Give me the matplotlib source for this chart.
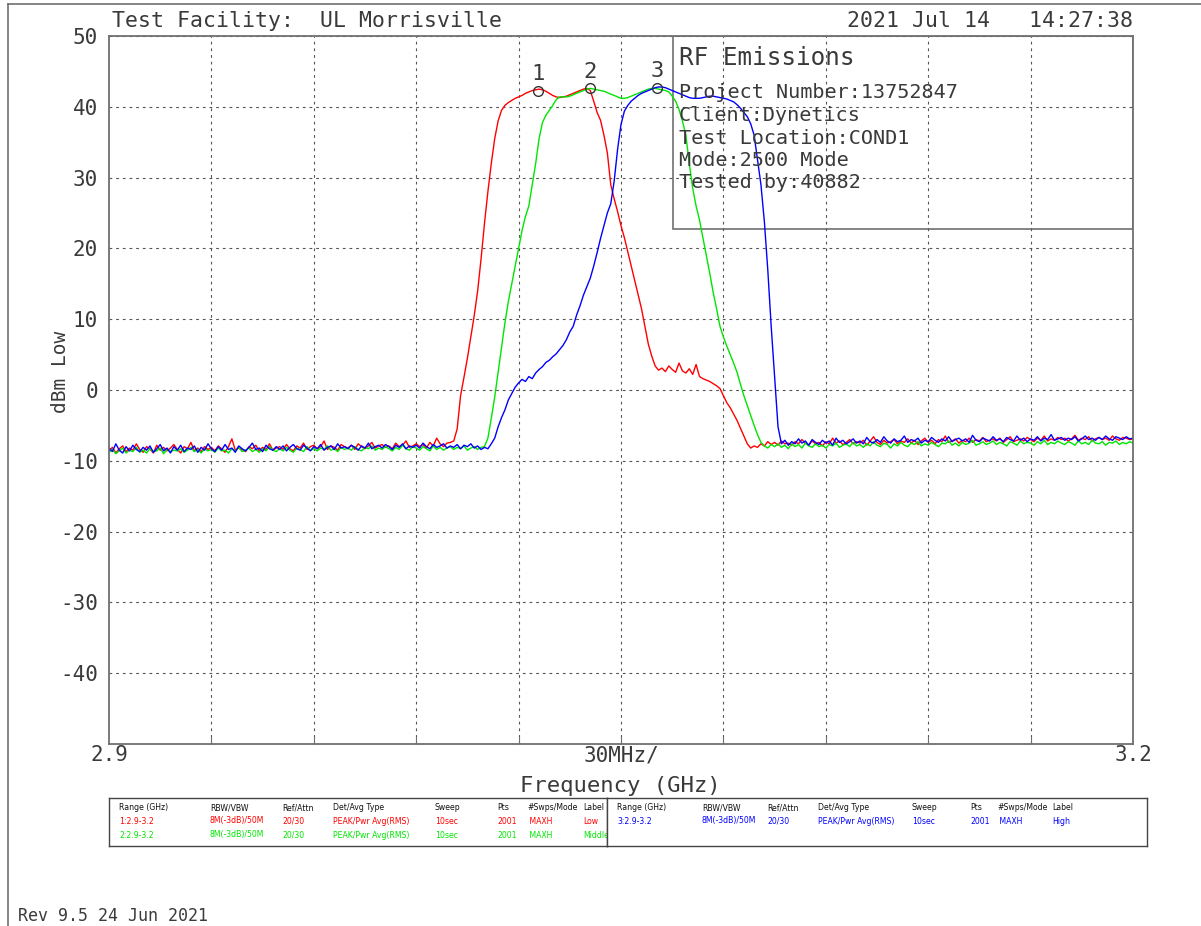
import matplotlib
matplotlib.use('Agg')
import matplotlib.pyplot as plt
from matplotlib.patches import Rectangle
from matplotlib.lines import Line2D
from matplotlib import font_manager
import numpy as np

# sweep points, 1 MHz apart, 2900..3200 MHz
freq_mhz = np.arange(2900, 3201)

low_db = [
    -8.6, -8.1, -8.9, -8.3, -7.9, -8.7, -8.2, -8.5, -7.6, -8.4,
    -8.8, -8.0, -8.3, -8.9, -7.8, -8.5, -8.1, -8.6, -8.2, -7.7,
    -8.4, -8.9, -8.0, -8.3, -7.4, -8.6, -8.2, -8.7, -8.0, -8.4,
    -8.1, -8.6, -7.9, -8.3, -8.8, -8.0, -6.9, -8.5, -8.2, -8.4,
    -8.7, -8.0, -8.3, -7.8, -8.6, -8.1, -8.4, -7.6, -8.5, -8.2,
    -8.0, -8.4, -7.7, -8.3, -8.6, -7.9, -8.2, -7.5, -8.4, -8.0,
    -7.8, -8.3, -8.0, -7.2, -8.4, -7.9, -8.1, -8.5, -7.7, -8.0,
    -8.2, -7.8, -8.4, -7.6, -8.0, -8.3, -7.9, -7.4, -8.2, -7.9,
    -7.7, -8.1, -7.9, -8.3, -7.5, -8.0, -7.8, -7.2, -8.1, -7.9,
    -7.6, -8.0, -7.7, -8.2, -7.4, -7.9, -6.8, -7.6, -8.0, -7.5,
    -7.4, -7.2, -5.5, -0.8, 1.8, 4.5, 7.5, 10.5, 14.0, 18.5,
    23.5, 28.0, 32.0, 35.5, 38.0, 39.5, 40.2, 40.6, 40.9, 41.2,
    41.4, 41.6, 41.9, 42.1, 42.3, 42.4, 42.5, 42.4, 42.2, 41.9,
    41.6, 41.4, 41.3, 41.4, 41.5, 41.7, 41.9, 42.1, 42.3, 42.5,
    42.6, 42.3, 40.8, 39.2, 38.1, 36.0, 33.5, 29.0, 27.0, 25.2,
    23.2, 21.5, 19.5, 17.5, 15.5, 13.5, 11.5, 9.0, 6.5, 4.8,
    3.4, 2.8, 3.1, 2.6, 3.4, 2.9, 2.5, 3.8, 2.7, 2.4,
    3.0, 2.2, 3.6, 1.9, 1.6, 1.4, 1.2, 0.9, 0.6, 0.2,
    -0.8, -1.8, -2.5, -3.4, -4.3, -5.4, -6.5, -7.6, -8.2, -7.9,
    -8.1, -7.6, -7.9, -7.3, -7.7, -7.4, -7.8, -7.2, -7.6, -7.5,
    -7.8, -7.3, -7.6, -7.0, -7.5, -7.8, -7.2, -7.6, -7.4, -7.9,
    -7.3, -7.6, -6.8, -7.5, -7.2, -7.7, -7.4, -7.0, -7.6, -7.3,
    -7.5, -7.1, -7.8, -7.2, -6.6, -7.4, -7.7, -7.1, -7.5, -7.3,
    -7.0, -7.6, -7.2, -7.4, -6.9, -7.5, -7.1, -7.7, -7.2, -6.8,
    -7.4, -7.1, -7.6, -7.0, -7.3, -6.5, -7.4, -7.2, -6.9, -7.5,
    -7.1, -7.3, -6.8, -7.4, -7.0, -7.2, -6.7, -7.3, -7.1, -6.9,
    -7.2, -6.8, -7.4, -7.0, -6.6, -7.3, -7.1, -6.9, -7.2, -6.7,
    -7.0, -7.3, -6.8, -7.1, -6.5, -7.2, -6.9, -7.1, -6.7, -7.0,
    -6.8, -7.2, -6.9, -6.4, -7.1, -6.8, -7.0, -6.6, -7.2, -6.9,
    -6.7, -7.0, -6.8, -7.1, -6.5, -6.9, -7.1, -6.7, -6.8, -7.0,
    -6.9,
]

middle_db = [
    -8.8, -8.4, -9.0, -8.6, -8.2, -8.9, -8.5, -8.7, -8.1, -8.8,
    -8.5, -8.9, -8.3, -8.7, -8.6, -8.2, -9.0, -8.4, -8.7, -8.5,
    -8.6, -8.3, -8.8, -8.5, -8.1, -8.7, -8.4, -8.9, -8.3, -8.6,
    -8.4, -8.8, -8.2, -8.6, -8.5, -8.9, -8.3, -8.6, -8.1, -8.7,
    -8.5, -8.2, -8.7, -8.4, -8.8, -8.3, -8.6, -8.0, -8.5, -8.7,
    -8.3, -8.6, -8.1, -8.5, -8.8, -8.2, -8.4, -8.7, -8.0, -8.5,
    -8.3, -8.6, -8.2, -8.4, -7.9, -8.5, -8.3, -8.7, -8.1, -8.4,
    -8.2, -8.5, -8.0, -8.4, -8.6, -8.1, -8.3, -7.9, -8.5, -8.2,
    -8.4, -8.0, -8.3, -8.6, -8.1, -8.4, -7.8, -8.3, -8.5, -8.0,
    -8.2, -8.5, -8.0, -8.3, -8.6, -7.9, -8.4, -8.1, -8.5, -8.2,
    -8.0, -8.4, -8.1, -8.3, -7.9, -8.5, -8.2, -8.0, -8.4, -8.1,
    -8.0, -6.8, -4.0, -1.0, 2.5, 6.0, 9.5, 12.5, 15.0, 17.5,
    20.0, 22.5, 24.5, 26.0, 29.0, 32.0, 35.5, 37.8, 38.8, 39.5,
    40.2, 41.0, 41.4, 41.4, 41.4, 41.5, 41.7, 41.9, 42.1, 42.3,
    42.5, 42.6, 42.5, 42.4, 42.3, 42.2, 42.0, 41.8, 41.6, 41.4,
    41.2, 41.2, 41.3, 41.5, 41.7, 41.9, 42.1, 42.3, 42.5, 42.6,
    42.6, 42.5, 42.4, 42.3, 42.1, 41.5, 40.8, 39.6, 38.0, 36.0,
    32.0, 28.5, 26.0, 24.0, 21.5, 19.0, 16.5, 13.8, 11.5, 9.0,
    7.5, 6.2, 5.0, 3.8, 2.5, 0.8, -0.8, -2.2, -3.6, -5.0,
    -6.3, -7.4, -7.9, -8.2, -7.7, -8.0, -7.6, -8.1, -7.8, -8.3,
    -7.6, -8.0, -7.7, -8.2, -7.5, -7.9, -8.1, -7.6, -8.0, -7.8,
    -8.2, -7.7, -7.9, -7.5, -8.1, -7.8, -7.6, -8.0, -7.4, -7.9,
    -7.7, -8.1, -7.6, -7.9, -7.3, -7.8, -8.0, -7.5, -7.7, -8.2,
    -7.6, -7.9, -7.4, -7.8, -8.0, -7.5, -7.7, -7.3, -7.9, -7.6,
    -7.8, -7.4, -7.7, -8.0, -7.5, -7.6, -7.2, -7.8, -7.5, -7.9,
    -7.4, -7.7, -7.5, -7.1, -7.8, -7.6, -7.3, -7.7, -7.5, -7.2,
    -7.7, -7.4, -7.6, -7.9, -7.3, -7.5, -7.8, -7.2, -7.6, -7.4,
    -7.5, -7.8, -7.3, -7.6, -7.1, -7.7, -7.4, -7.6, -7.2, -7.5,
    -7.7, -7.3, -7.5, -7.8, -7.2, -7.6, -7.4, -7.7, -7.1, -7.5,
    -7.6, -7.3, -7.8, -7.4, -7.5, -7.2, -7.7, -7.4, -7.6, -7.3,
    -7.5,
]

high_db = [
    -8.2, -8.7, -7.6, -8.5, -8.9, -8.0, -8.6, -7.8, -8.4, -8.7,
    -8.1, -8.5, -7.9, -8.8, -8.3, -7.7, -8.6, -8.2, -8.9, -8.0,
    -8.5, -7.8, -8.7, -8.2, -8.4, -7.9, -8.8, -8.1, -8.5, -7.6,
    -8.3, -8.7, -8.0, -8.5, -7.7, -8.4, -8.2, -8.8, -7.9, -8.3,
    -8.6, -8.1, -7.5, -8.4, -8.2, -8.7, -7.8, -8.3, -8.5, -8.0,
    -8.4, -7.9, -8.6, -8.1, -7.7, -8.3, -8.5, -7.8, -8.2, -8.6,
    -8.0, -8.3, -7.7, -8.5, -8.1, -7.9, -8.4, -7.6, -8.2, -8.0,
    -8.3, -7.8, -8.1, -8.5, -7.9, -8.2, -7.5, -8.3, -8.0, -7.8,
    -8.2, -7.7, -8.0, -8.4, -7.8, -8.1, -7.6, -8.3, -7.9, -8.1,
    -7.8, -8.2, -7.5, -8.0, -8.3, -7.7, -8.1, -7.9, -7.6, -8.2,
    -7.9, -8.1, -7.7, -8.3, -7.8, -8.0, -7.6, -8.2, -7.9, -8.4,
    -8.1, -8.3, -7.6, -6.8, -5.2, -3.9, -2.8, -1.4, -0.5, 0.4,
    1.0, 1.5, 1.2, 1.9, 1.6, 2.4, 2.9, 3.3, 3.9, 4.2,
    4.7, 5.1, 5.7, 6.3, 7.1, 8.2, 9.0, 10.6, 11.9, 13.4,
    14.6, 15.8, 17.5, 19.4, 21.4, 23.2, 25.0, 26.3, 29.5, 34.0,
    37.5, 39.4, 40.2, 40.8, 41.2, 41.6, 41.9, 42.1, 42.3, 42.5,
    42.7, 42.8, 42.8, 42.7, 42.5, 42.3, 42.1, 41.9, 41.7, 41.5,
    41.3, 41.2, 41.2, 41.2, 41.3, 41.4, 41.5, 41.5, 41.4, 41.3,
    41.2, 41.1, 40.9, 40.7, 40.3, 39.8, 39.2, 38.6, 37.6, 36.0,
    32.5, 29.0, 23.8, 17.0, 9.0, 1.8, -5.2, -7.6, -7.1, -7.8,
    -7.3, -7.6, -6.9, -7.5, -7.2, -7.8, -7.0, -7.4, -7.7, -7.1,
    -7.5, -7.2, -7.8, -6.8, -7.4, -7.1, -7.6, -7.3, -6.9, -7.5,
    -7.2, -7.6, -6.7, -7.3, -7.5, -7.0, -7.4, -6.6, -7.2, -7.5,
    -6.9, -7.3, -7.1, -6.5, -7.4, -7.0, -7.2, -6.8, -7.5, -7.1,
    -7.3, -6.7, -7.1, -7.4, -6.9, -7.2, -6.6, -7.3, -7.0, -6.8,
    -7.2, -6.9, -7.4, -6.4, -7.1, -7.3, -6.8, -7.0, -7.2, -6.6,
    -7.1, -6.9, -7.3, -6.7, -7.0, -7.2, -6.5, -7.1, -6.8, -7.3,
    -6.9, -7.1, -6.6, -7.2, -6.8, -7.0, -6.3, -7.1, -6.9, -6.7,
    -7.1, -6.8, -7.0, -6.6, -7.2, -6.9, -6.5, -7.0, -6.8, -7.1,
    -6.7, -7.0, -6.5, -6.9, -7.1, -6.6, -6.8, -7.0, -6.6, -6.9,
    -6.8,
]

marker_mhz = [3025.8, 3040.9, 3060.5]
marker_db = [42.3, 42.6, 42.7]
marker_names = ['1', '2', '3']

info_lines = ['Project Number:13752847', 'Client:Dynetics', 'Test Location:COND1',
              'Mode:2500 Mode', 'Tested by:40882']

table_header = ['Range (GHz)', 'RBW/VBW', 'Ref/Attn', 'Det/Avg Type', 'Sweep', 'Pts', '#Swps/Mode', 'Label']
table_rows = [
    ['1:2.9-3.2', '8M(-3dB)/50M', '20/30', 'PEAK/Pwr Avg(RMS)', '10sec', '2001', ' MAXH', 'Low'],
    ['2:2.9-3.2', '8M(-3dB)/50M', '20/30', 'PEAK/Pwr Avg(RMS)', '10sec', '2001', ' MAXH', 'Middle'],
    ['3:2.9-3.2', '8M(-3dB)/50M', '20/30', 'PEAK/Pwr Avg(RMS)', '10sec', '2001', ' MAXH', 'High'],
]
row_colors = ['#ff0000', '#00e600', '#0000ff']

W, H = 1201, 926
mono = 'DejaVu Sans Mono'
txt = '#3a3a3a'
frame = '#707070'

installed = {f.name for f in font_manager.fontManager.ttflist}
small_font = 'Liberation Sans Narrow' if 'Liberation Sans Narrow' in installed else 'DejaVu Sans'
small_size = 6.5 if small_font == 'Liberation Sans Narrow' else 5.6

fig = plt.figure(figsize=(W / 100, H / 100), dpi=100)

def px_axes(x0, y0, x1, y1):
    return fig.add_axes([x0 / W, 1 - y1 / H, (x1 - x0) / W, (y1 - y0) / H])

# figure border (top + left)
fig.add_artist(Line2D([8 / W, 1], [1 - 4 / H, 1 - 4 / H], color=frame, lw=1.2))
fig.add_artist(Line2D([8 / W, 8 / W], [0, 1 - 4 / H], color=frame, lw=1.2))

ax = px_axes(109, 36, 1133, 744)
ax.plot(freq_mhz, low_db, color=row_colors[0], lw=1.0)
ax.plot(freq_mhz, middle_db, color=row_colors[1], lw=1.0)
ax.plot(freq_mhz, high_db, color=row_colors[2], lw=1.0)

ax.set_xlim(2900, 3200)
ax.set_ylim(-50, 50)
ax.set_xticks(np.arange(2930, 3200, 30))
ax.set_xticklabels([])
ax.tick_params(axis='x', direction='in', length=5, color=frame)
ax.set_yticks(np.arange(-40, 51, 10))
ax.set_yticklabels([str(v) for v in range(-40, 51, 10)], fontfamily=mono, fontsize=15, color=txt)
ax.tick_params(axis='y', length=0, pad=8)
ax.grid(True, color='#555555', linestyle=(0, (2.5, 3.5)), linewidth=0.8)
for s in ax.spines.values():
    s.set_color(frame)
    s.set_linewidth(1.3)

# x labels
tx = ax.get_xaxis_transform()
for f, lab in [(2900, '2.9'), (3050, '30MHz/'), (3200, '3.2')]:
    ax.text(f, -0.016, lab, transform=tx, ha='center', va='center', fontfamily=mono, fontsize=15, color=txt)
fig.text(620 / W, 1 - 786 / H, 'Frequency (GHz)', ha='center', va='center', fontfamily=mono, fontsize=16, color=txt)
fig.text(60 / W, 1 - 372 / H, 'dBm Low', rotation=90, ha='center', va='center', fontfamily=mono, fontsize=14, color=txt)

# header
fig.text(112 / W, 1 - 21 / H, 'Test Facility:  UL Morrisville', ha='left', va='center', fontfamily=mono, fontsize=15.5, color=txt)
fig.text(1133 / W, 1 - 21 / H, '2021 Jul 14   14:27:38', ha='right', va='center', fontfamily=mono, fontsize=15.5, color=txt)

# markers
ax.plot(marker_mhz, marker_db, linestyle='none', marker='o', ms=7, mfc='none', mec='#333333', mew=1.0)
for f, d, n in zip(marker_mhz, marker_db, marker_names):
    ax.annotate(n, (f, d), xytext=(0, 12), textcoords='offset points', ha='center', va='center',
                fontfamily=mono, fontsize=16, color=txt)

# info box
ax.add_patch(Rectangle(((673 - 109) / 1024, (744 - 229) / 708), (1133 - 673) / 1024, (229 - 36) / 708,
                       transform=ax.transAxes, fill=False, edgecolor=frame, lw=1.2))
ax.text((679 - 109) / 1024, (744 - 58) / 708, 'RF Emissions', transform=ax.transAxes, ha='left', va='center',
        fontfamily=mono, fontsize=17.5, color=txt)
for i, line in enumerate(info_lines):
    y = 93 + i * 22.5
    ax.text((679 - 109) / 1024, (744 - y) / 708, line, transform=ax.transAxes, ha='left', va='center',
            fontfamily=mono, fontsize=14.5, color=txt)

# settings table, two halves
left_cols = [119, 210, 282, 333, 435, 497, 527, 583]
right_cols = [617, 702, 767, 818, 912, 970, 997, 1052]
halves = [(109, 607, left_cols, [0, 1]), (607, 1147, right_cols, [2])]
for x0, x1, cols, rows in halves:
    tax = px_axes(x0, 798, x1, 846)
    tax.set_xlim(x0, x1)
    tax.set_ylim(846, 798)
    tax.set_xticks([])
    tax.set_yticks([])
    for s in tax.spines.values():
        s.set_color('#444444')
        s.set_linewidth(1.0)
    for cx, h in zip(cols, table_header):
        tax.text(cx, 808, h, ha='left', va='center', fontfamily=small_font, fontsize=small_size,
                 color='#111111', clip_on=True)
    for k, r in enumerate(rows):
        for cx, v in zip(cols, table_rows[r]):
            tax.text(cx, 821 + k * 14, v, ha='left', va='center', fontfamily=small_font, fontsize=small_size,
                     color=row_colors[r], clip_on=True)

fig.text(18 / W, 1 - 916 / H, 'Rev 9.5 24 Jun 2021', ha='left', va='center', fontfamily=mono, fontsize=12, color=txt)

fig.savefig('out.png', dpi=100)
